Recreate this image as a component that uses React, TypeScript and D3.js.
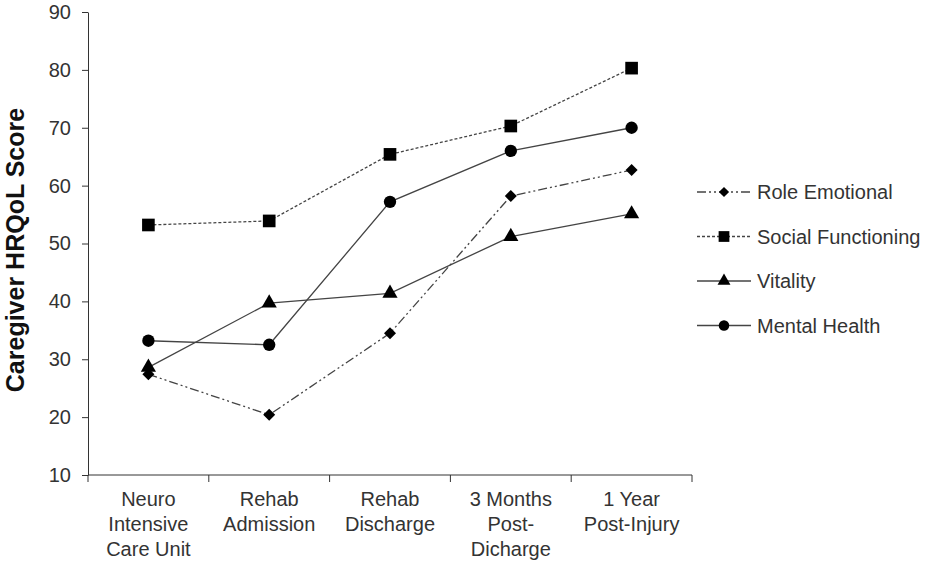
import React, { useEffect, useRef } from 'react';
import * as d3 from 'd3';

const categories = [
  ['Neuro', 'Intensive', 'Care Unit'],
  ['Rehab', 'Admission'],
  ['Rehab', 'Discharge'],
  ['3 Months', 'Post-', 'Dicharge'],
  ['1 Year', 'Post-Injury'],
];
const yTicks = [10, 20, 30, 40, 50, 60, 70, 80, 90];

const roleEmotional = [27.4, 20.4, 34.5, 58.2, 62.7];
const socialFunctioning = [53.2, 53.9, 65.4, 70.3, 80.3];
const vitality = [28.6, 39.7, 41.4, 51.2, 55.1];
const mentalHealth = [33.2, 32.5, 57.2, 66.0, 70.0];

const seriesNames = ['Role Emotional', 'Social Functioning', 'Vitality', 'Mental Health'];

const App: React.FC = () => {
  const svgRef = useRef<SVGSVGElement | null>(null);

  useEffect(() => {
    if (!svgRef.current) return;
    const svg = d3.select(svgRef.current);
    svg.selectAll('*').remove();

    const width = 933;
    const height = 564;
    const left = 88;
    const right = 692;
    const top = 12;
    const bottom = 475;
    const font = 'Liberation Sans, Arial, sans-serif';
    const ink = '#333';

    const x = d3
      .scaleBand<number>()
      .domain(d3.range(categories.length))
      .range([left, right]);
    const y = d3.scaleLinear().domain([10, 90]).range([bottom, top]);

    const series = [
      { name: seriesNames[0], values: roleEmotional, dash: '9,3,2,3,2,3', marker: 'diamond' },
      { name: seriesNames[1], values: socialFunctioning, dash: '3,2', marker: 'square' },
      { name: seriesNames[2], values: vitality, dash: '', marker: 'triangle' },
      { name: seriesNames[3], values: mentalHealth, dash: '', marker: 'circle' },
    ];

    // diamond is a square turned by 45 degrees, so rotation goes with the marker
    const symbolFor = (m: string) => {
      if (m === 'diamond') return d3.symbol().type(d3.symbolSquare).size(72)();
      if (m === 'square') return d3.symbol().type(d3.symbolSquare).size(160)();
      if (m === 'triangle') return d3.symbol().type(d3.symbolTriangle).size(100)();
      return d3.symbol().type(d3.symbolCircle).size(120)();
    };
    const rot = (m: string) => (m === 'diamond' ? ' rotate(45)' : '');

    // Y axis
    const yAxis = d3.axisLeft(y).tickValues(yTicks).tickSize(6).tickSizeOuter(0).tickPadding(11);
    const gy = svg.append('g').attr('transform', `translate(${left},0)`).call(yAxis);
    gy.select('.domain').attr('stroke', ink);
    gy.selectAll('line').attr('stroke', ink);
    gy.selectAll('text').attr('font-family', font).attr('font-size', 20).attr('fill', ink);

    // X axis with ticks at band edges
    svg
      .append('line')
      .attr('x1', left)
      .attr('x2', right)
      .attr('y1', bottom)
      .attr('y2', bottom)
      .attr('stroke', ink);
    const edges = d3.range(categories.length + 1).map((i) => left + i * x.bandwidth());
    svg
      .append('g')
      .selectAll('line')
      .data(edges)
      .enter()
      .append('line')
      .attr('x1', (d) => d)
      .attr('x2', (d) => d)
      .attr('y1', bottom)
      .attr('y2', bottom + 7)
      .attr('stroke', ink);

    const labels = svg
      .append('g')
      .selectAll('text')
      .data(categories)
      .enter()
      .append('text')
      .attr('x', (_d, i) => x(i)! + x.bandwidth() / 2)
      .attr('y', bottom + 31)
      .attr('text-anchor', 'middle')
      .attr('font-family', font)
      .attr('font-size', 20)
      .attr('fill', ink);
    labels
      .selectAll('tspan')
      .data((d) => d)
      .enter()
      .append('tspan')
      .attr('x', function () {
        return (this as SVGTSpanElement).parentElement!.getAttribute('x');
      })
      .attr('dy', (_d, i) => (i === 0 ? 0 : 25))
      .text((d) => d);

    // Y title
    svg
      .append('text')
      .attr('transform', `translate(24,250) rotate(-90)`)
      .attr('text-anchor', 'middle')
      .attr('font-family', font)
      .attr('font-size', 25)
      .attr('font-weight', 'bold')
      .attr('fill', '#111')
      .text('Caregiver HRQoL Score');

    const cx = (i: number) => x(i)! + x.bandwidth() / 2;
    const line = d3
      .line<number>()
      .x((_d, i) => cx(i))
      .y((d) => y(d));

    series.forEach((s) => {
      svg
        .append('path')
        .datum(s.values)
        .attr('d', line)
        .attr('fill', 'none')
        .attr('stroke', '#444')
        .attr('stroke-width', 1.3)
        .attr('stroke-dasharray', s.dash || null);
    });
    series.forEach((s) => {
      svg
        .append('g')
        .selectAll('path')
        .data(s.values)
        .enter()
        .append('path')
        .attr('d', symbolFor(s.marker))
        .attr('transform', (d, i) => `translate(${cx(i)},${y(d)})${rot(s.marker)}`)
        .attr('fill', '#000');
    });

    // Legend
    const legend = svg.append('g');
    series.forEach((s, i) => {
      const ly = 192 + i * 44.5;
      legend
        .append('line')
        .attr('x1', 697)
        .attr('x2', 751)
        .attr('y1', ly)
        .attr('y2', ly)
        .attr('stroke', '#444')
        .attr('stroke-width', 1.3)
        .attr('stroke-dasharray', s.dash || null);
      legend
        .append('path')
        .attr('d', symbolFor(s.marker))
        .attr('transform', `translate(724,${ly}) scale(0.85)${rot(s.marker)}`)
        .attr('fill', '#000');
      legend
        .append('text')
        .attr('x', 757)
        .attr('y', ly + 7)
        .attr('font-family', font)
        .attr('font-size', 20)
        .attr('fill', ink)
        .text(s.name);
    });

    svg.attr('viewBox', `0 0 ${width} ${height}`);
  }, []);

  return (
    <svg
      ref={svgRef}
      width={933}
      height={564}
      style={{ position: 'absolute', left: 0, top: 0, background: '#fff' }}
    />
  );
};

export default App;
